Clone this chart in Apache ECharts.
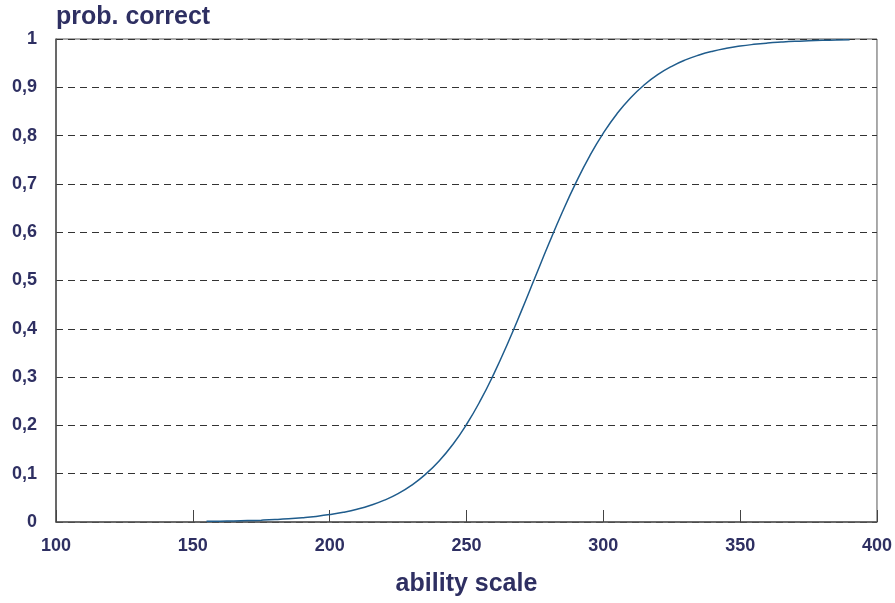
<!DOCTYPE html>
<html>
<head>
<meta charset="utf-8">
<script src="https://cdn.jsdelivr.net/npm/echarts@6/dist/echarts.min.js"></script>
<style>html,body{margin:0;padding:0;background:#fff}#c{width:895px;height:603px}</style>
</head>
<body>
<div id="c"></div>
<script>
const abilityX = [155,160,165,170,175,180,185,190,195,200,205,210,215,220,225,230,235,240,245,250,255,260,265,270,275,280,285,290,295,300,305,310,315,320,325,330,335,340,345,350,355,360,365,370,375,380,385,390];
const probCorrect = [0.0013,0.0017,0.0022,0.0029,0.0038,0.0050,0.0066,0.0088,0.0116,0.0153,0.0201,0.0264,0.0346,0.0452,0.0588,0.0764,0.0987,0.1264,0.1606,0.2019,0.2506,0.3067,0.3691,0.4361,0.5056,0.5749,0.6413,0.7027,0.7577,0.8052,0.8454,0.8785,0.9052,0.9266,0.9435,0.9567,0.9669,0.9748,0.9808,0.9854,0.9889,0.9916,0.9936,0.9952,0.9963,0.9972,0.9979,0.9984];
const yTitle = 'prob. correct';
const xTitle = 'ability scale';

const txt = '#2e2f62';
const font = '"Liberation Sans", Arial, sans-serif';
const chart = echarts.init(document.getElementById('c'));
chart.setOption({
  animation: false,
  title: {
    text: yTitle, left: 56, top: 5, padding: 0,
    textStyle: { color: txt, fontSize: 25, fontWeight: 'bold', fontFamily: font }
  },
  grid: { left: 56, right: 18, top: 39, bottom: 81, show: true, borderColor: '#555', borderWidth: 1, backgroundColor: 'transparent' },
  xAxis: {
    type: 'value', min: 100, max: 400, interval: 50,
    name: xTitle, nameLocation: 'middle', nameGap: 50,
    nameTextStyle: { color: txt, fontSize: 25, fontWeight: 'bold', fontFamily: font },
    axisLine: { show: true, lineStyle: { color: '#555', width: 1.5 } },
    axisTick: { show: true, inside: true, length: 12, lineStyle: { color: '#444', width: 1 } },
    axisLabel: { color: txt, fontSize: 18, fontWeight: 'bold', fontFamily: font, margin: 15 },
    splitLine: { show: false }
  },
  yAxis: {
    type: 'value', min: 0, max: 1, interval: 0.1,
    axisLine: { show: true, lineStyle: { color: '#555', width: 1.5 } },
    axisTick: { show: false },
    axisLabel: {
      color: txt, fontSize: 18, fontWeight: 'bold', fontFamily: font, margin: 19,
      formatter: v => (Math.round(v * 10) / 10).toString().replace('.', ',')
    },
    splitLine: { show: true, lineStyle: { color: '#333', width: 1, type: [7, 5] } }
  },
  series: [{
    type: 'line', smooth: true, symbol: 'none',
    data: abilityX.map((x, i) => [x, probCorrect[i]]),
    lineStyle: { color: '#1f5c8c', width: 1.5 }
  }]
});
</script>
</body>
</html>
